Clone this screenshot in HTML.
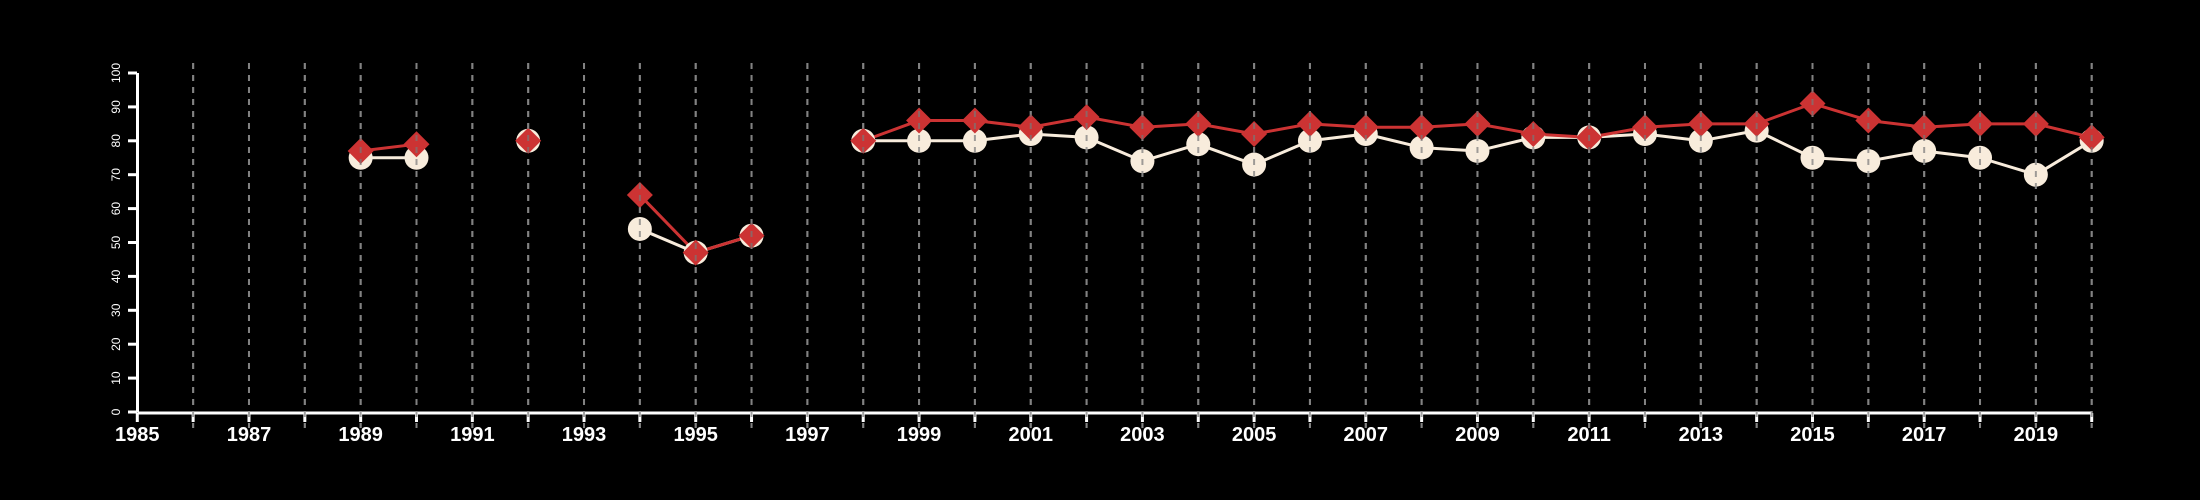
<!DOCTYPE html>
<html><head><meta charset="utf-8"><style>
html,body{margin:0;padding:0;background:#000;}
svg{display:block;}
</style></head><body>
<svg id="chart" width="2200" height="500" xmlns="http://www.w3.org/2000/svg" style="background:#000">
<g id="grid"></g>
<g id="axes"></g>
<g id="series"></g>
<g id="grid2"></g>
</svg>
<script>
const years = [1989,1990,1991,1992,1993,1994,1995,1996,1997,1998,1999,2000,2001,2002,2003,2004,2005,2006,2007,2008,2009,2010,2011,2012,2013,2014,2015,2016,2017,2018,2019,2020];
const whiteSeries = [75,75,null,80,null,54,47,52,null,80,80,80,82,81,74,79,73,80,82,78,77,81,81,82,80,83,75,74,77,75,70,80];
const redSeries = [77,79,null,80,null,64,47,52,null,80,86,86,84,87,84,85,82,85,84,84,85,82,81,84,85,85,91,86,84,85,85,81];
const yTicks = [0,10,20,30,40,50,60,70,80,90,100];
const xLabels = [1985,1987,1989,1991,1993,1995,1997,1999,2001,2003,2005,2007,2009,2011,2013,2015,2017,2019];
const xMin = 1985, xMax = 2020;

const NS = 'http://www.w3.org/2000/svg';
const X = v => 137.3 + (v - xMin) * 55.84;
const Y = v => 412 - v * 3.39;
function mk(tag, attrs, parent){const e=document.createElementNS(NS,tag);for(const k in attrs)e.setAttribute(k,attrs[k]);parent.appendChild(e);return e;}
const grid=document.getElementById('grid'), axes=document.getElementById('axes'), series=document.getElementById('series'), grid2=document.getElementById('grid2');

for(let yr=xMin+1; yr<=xMax; yr++){
  const l=mk('line',{x1:X(yr),x2:X(yr),y1:63,y2:428,stroke:'#999','stroke-width':2,'stroke-dasharray':'6,6'},grid);
  
  
}
// axes
const xa=mk('line',{x1:X(xMin),x2:X(xMax),y1:413,y2:413,stroke:'#fff','stroke-width':3},axes);


const ya=mk('line',{x1:137.5,x2:137.5,y1:Y(0),y2:Y(100),stroke:'#fff','stroke-width':3},axes);


for(let yr=xMin; yr<=xMax; yr++){
  const t=mk('line',{x1:X(yr),x2:X(yr),y1:413,y2:422,stroke:'#fff','stroke-width':3},axes);
  
  
}
xLabels.forEach(v=>{
  const t=mk('text',{x:X(v),y:441,'text-anchor':'middle',fill:'#fff','font-family':'Liberation Sans, sans-serif','font-size':20,'font-weight':'bold'},axes);
  t.textContent=v;
  
  
});
yTicks.forEach(v=>{
  const t=mk('line',{x1:128,x2:137,y1:Y(v),y2:Y(v),stroke:'#fff','stroke-width':3},axes);
  
  
  const tx=mk('text',{x:0,y:0,transform:`translate(120,${Y(v)}) rotate(-90)`,'text-anchor':'middle',fill:'#fff','font-family':'Liberation Sans, sans-serif','font-size':12},axes);
  tx.textContent=v;
  
  
});
function drawLine(vals,color,name){
  for(let i=0;i<vals.length-1;i++){
    if(vals[i]==null||vals[i+1]==null)continue;
    const l=mk('line',{x1:X(years[i]),y1:Y(vals[i]),x2:X(years[i+1]),y2:Y(vals[i+1]),stroke:color,'stroke-width':3},series);
    
    
  }
}
drawLine(whiteSeries,'#f8ecdc','white-series');
drawLine(redSeries,'#cc3333','red-series');
whiteSeries.forEach((v,i)=>{
  if(v==null)return;
  const c=mk('circle',{cx:X(years[i]),cy:Y(v),r:12,fill:'#f8ecdc'},series);
  
  
});
redSeries.forEach((v,i)=>{
  if(v==null)return;
  const x=X(years[i]), y=Y(v), s=13;
  const p=mk('polygon',{points:`${x},${y-s} ${x+s},${y} ${x},${y+s} ${x-s},${y}`,fill:'#cc3333'},series);
  
  
});
for(let yr=xMin+1; yr<=xMax; yr++){
  const l=mk('line',{x1:X(yr),x2:X(yr),y1:63,y2:428,stroke:'#777','stroke-width':2,'stroke-dasharray':'6,6','stroke-opacity':0.7},grid2);
  
  
}
</script>
</body></html>
